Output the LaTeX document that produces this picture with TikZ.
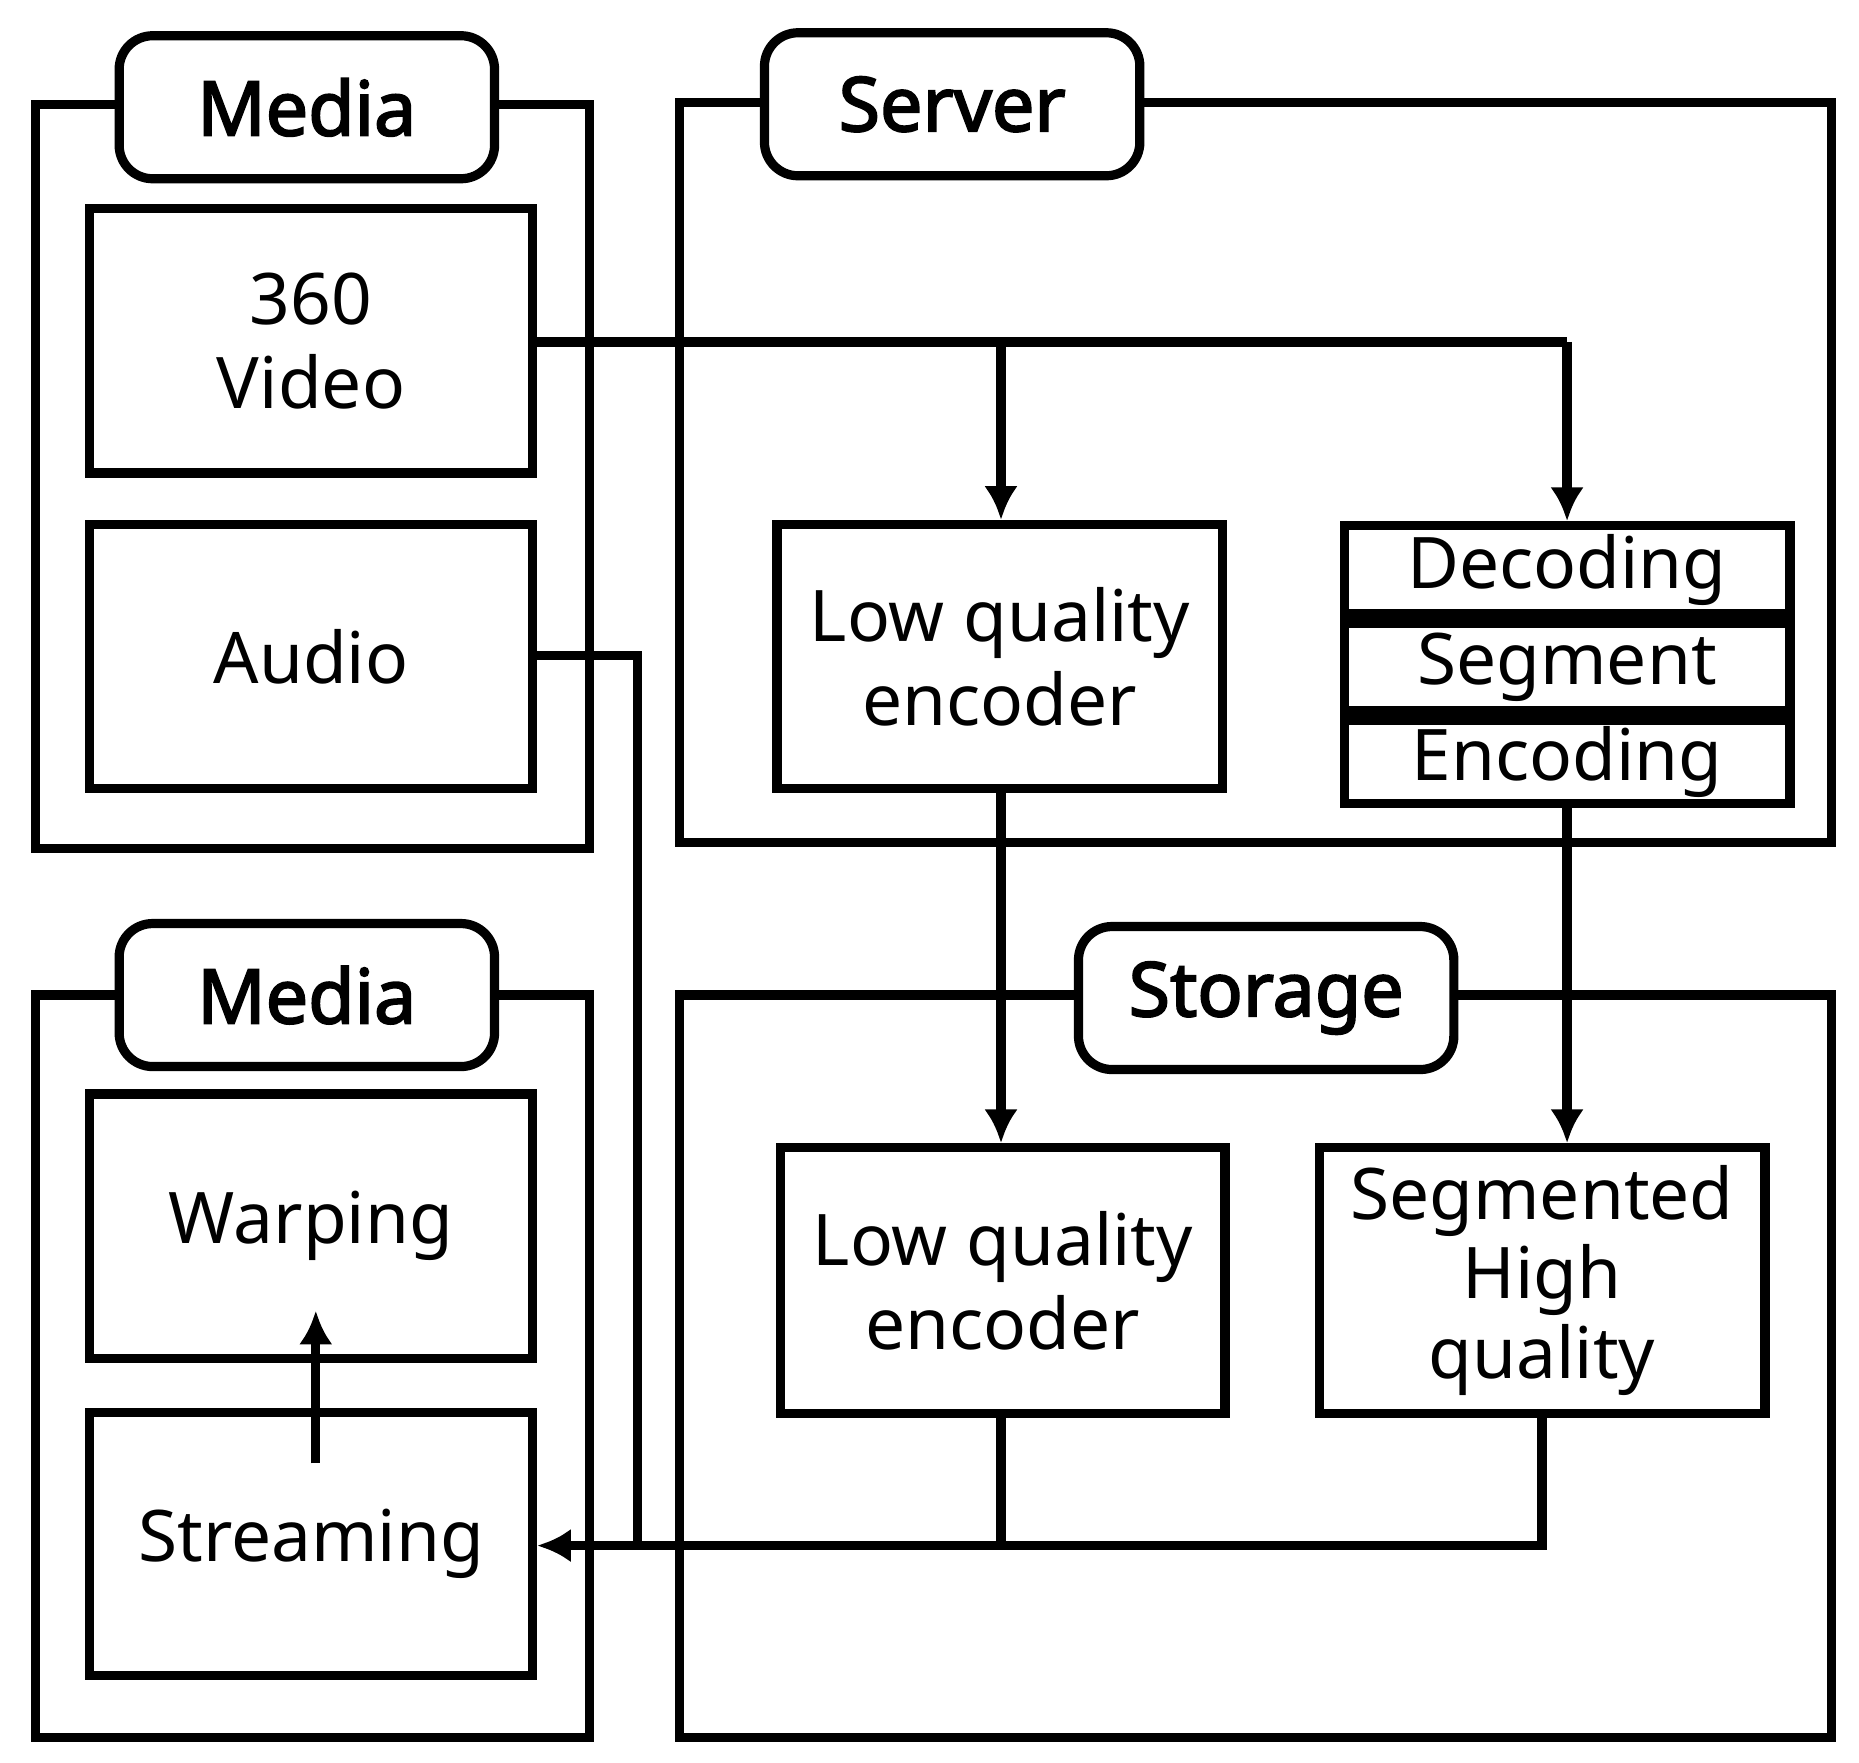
\documentclass[tikz,border=0pt]{standalone}
\usepackage{fontspec}
\setmainfont{Noto Sans}[AutoFakeBold=2.5]
\usetikzlibrary{positioning}
\tikzset{
  frame/.style={draw,line width=2.2pt},
  block/.style={draw,line width=2.2pt,align=center,font=\fontsize{17}{20}\selectfont,inner sep=0pt},
  title/.style={draw,line width=2.2pt,rounded corners=8pt,fill=white,font=\fontsize{18}{22}\selectfont\bfseries,
    minimum width=3.15cm,minimum height=1.2cm},
  link/.style={line width=2.2pt,-{Latex[length=8pt,width=8pt]}}
}
\usetikzlibrary{arrows.meta}
\begin{document}
\begin{tikzpicture}
  \useasboundingbox (0,0) rectangle (15.6,-14.79);
  % outer frames
  \draw[frame] (0.3,-0.88) rectangle (4.95,-7.12);
  \draw[frame] (5.7,-0.86) rectangle (15.37,-7.07);
  \draw[frame] (0.3,-8.35) rectangle (4.95,-14.58);
  \draw[frame] (5.7,-8.35) rectangle (15.37,-14.58);
  \node[title] (media1) at (2.575,-0.9) {Media};
  \node[title] (server) at (7.99,-0.875) {Server};
  \node[title] (media2) at (2.575,-8.35) {Media};
  \node[title] (storage) at (10.625,-8.375) {Storage};
  % media blocks
  \node[block,minimum width=3.72cm,minimum height=2.22cm] (video) at (2.61,-2.86) {360\\Video};
  \node[block,minimum width=3.72cm,minimum height=2.22cm] (audio) at (2.61,-5.51) {Audio};
  \node[block,minimum width=3.72cm,minimum height=2.22cm] (warp) at (2.61,-10.29) {Warping};
  \node[block,minimum width=3.72cm,minimum height=2.21cm] (stream) at (2.61,-12.955) {Streaming};
  % server blocks
  \node[block,minimum width=3.74cm,minimum height=0.74cm] (dec) at (13.15,-4.78) {Decoding};
  \node[block,minimum width=3.74cm,minimum height=0.74cm,below=0pt of dec] (seg) {Segment};
  \node[block,minimum width=3.74cm,minimum height=0.7cm,below=0pt of seg] (enc) {Encoding};
  \node[block,minimum width=3.74cm,minimum height=2.22cm] (lqe) at (8.39,-5.51) {Low quality\\encoder};
  % storage blocks
  \node[block,minimum width=3.73cm,minimum height=2.23cm] (lqs) at (8.415,-10.745) {Low quality\\encoder};
  \node[block,minimum width=3.74cm,minimum height=2.23cm,font=\fontsize{17}{19}\selectfont] (shq) at (12.94,-10.745) {Segmented\\High\\quality};
  % connectors
  \coordinate (v1) at (8.4,-2.87);
  \coordinate (v2) at (13.15,-2.87);
  \coordinate (a1) at (5.35,-5.5);
  \coordinate (j) at (5.35,-12.97);
  \draw[line width=2.2pt] (video.east|-v1) -- (v2);
  \draw[link] (v1) -- (lqe.north-|v1);
  \draw[link] (v2) -- (dec.north);
  \draw[link] (lqe.south-|v1) -- (lqs.north-|v1);
  \draw[link] (enc.south) -- (shq.north-|enc.south);
  \draw[line width=2.2pt] (audio.east|-a1) -- (a1) -- (j);
  \draw[line width=2.2pt] (lqs.south-|v1) -- (v1|-j);
  \draw[link] (shq.south) |- (stream.east|-j);
  \draw[link] (2.65,-12.28) -- (2.65,-11.0);
\end{tikzpicture}
\end{document}
